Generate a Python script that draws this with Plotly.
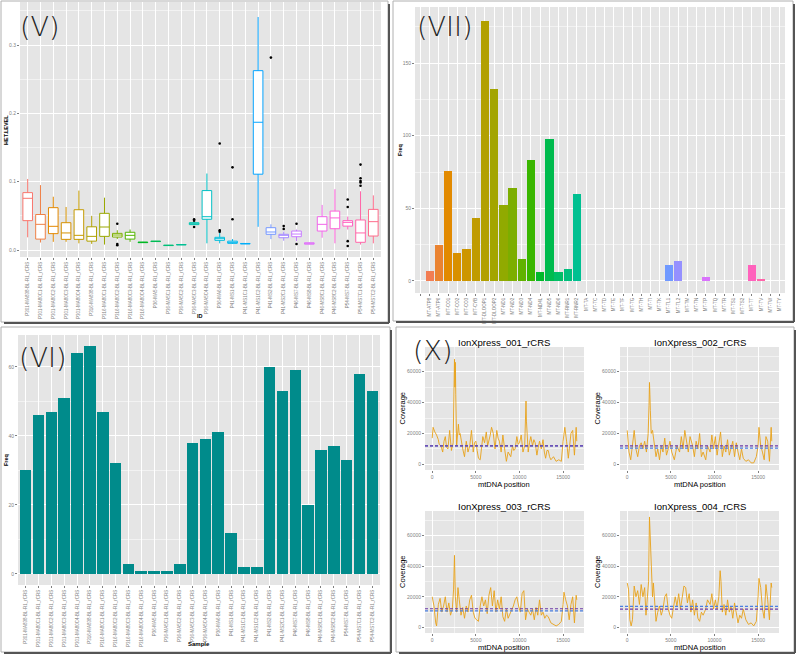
import math
import plotly.graph_objects as go

W, H = 796, 655

# ---------------- DATA ----------------
samples = [
    "P301-MA838-BL-R1_rCRS", "P301-MA80C1-BL-R1_rCRS", "P301-MA80C2-BL-R1_rCRS",
    "P301-MA80C3-BL-R1_rCRS", "P301-MA80C4-BL-R1_rCRS", "P316-MA838-BL-R1_rCRS",
    "P316-MA80C1-BL-R1_rCRS", "P316-MA80C2-BL-R1_rCRS", "P316-MA80C3-BL-R1_rCRS",
    "P316-MA80C4-BL-R1_rCRS", "P36-MA5-BL-R1_rCRS", "P36-MA5C1-BL-R1_rCRS",
    "P36-MA5C2-BL-R1_rCRS", "P36-MA5C3-BL-R1_rCRS", "P36-MA5C4-BL-R1_rCRS",
    "P36-MA6-BL-R1_rCRS", "P41-MS1-BL-R1_rCRS", "P41-MS1C1-BL-R1_rCRS",
    "P41-MS1C2-BL-R1_rCRS", "P41-MS2-BL-R1_rCRS", "P41-MS2C1-BL-R1_rCRS",
    "P46-MS7-BL-R1_rCRS", "P46-MS8-BL-R1_rCRS", "P46-MS8C1-BL-R1_rCRS",
    "P46-MS8C2-BL-R1_rCRS", "P54-MS7-BL-R1_rCRS", "P54-MS7C1-BL-R1_rCRS",
    "P54-MS7C2-BL-R1_rCRS",
]

# Panel V: heteroplasmy level box statistics per sample
het_q1 = [0.043, 0.016, 0.024, 0.0156, 0.0156, 0.013, 0.020, 0.019, 0.016, 0.0108,
          0.0124, 0.0065, 0.0075, 0.0372, 0.045, 0.0142, 0.0098, 0.0090, 0.111, 0.023,
          0.018, 0.0195, 0.0086, 0.0278, 0.0312, 0.035, 0.0113, 0.0205]
het_med = [0.0757, 0.0376, 0.0347, 0.025, 0.0215, 0.020, 0.0337, 0.022, 0.0215, 0.0112,
           0.0127, 0.0068, 0.0078, 0.038, 0.0488, 0.0166, 0.0112, 0.0093, 0.187, 0.0264,
           0.0215, 0.0234, 0.0093, 0.0376, 0.047, 0.0405, 0.025, 0.0415]
het_q3 = [0.084, 0.052, 0.062, 0.040, 0.059, 0.034, 0.0537, 0.0244, 0.026, 0.0116,
          0.0130, 0.0071, 0.0081, 0.040, 0.087, 0.0186, 0.013, 0.0096, 0.2625, 0.0327,
          0.023, 0.0278, 0.0107, 0.0488, 0.057, 0.043, 0.044, 0.0595]
het_lo = [0.0186, 0.011, 0.012, 0.012, 0.0098, 0.009, 0.008, 0.016, 0.012, 0.0105,
          0.0120, 0.0063, 0.0073, 0.0365, 0.0098, 0.0098, 0.0088, 0.0088, 0.034, 0.016,
          0.0136, 0.013, 0.0085, 0.018, 0.0098, 0.030, 0.008, 0.0098]
het_hi = [0.104, 0.095, 0.078, 0.063, 0.087, 0.050, 0.0766, 0.029, 0.030, 0.0119,
          0.0133, 0.0074, 0.0084, 0.041, 0.112, 0.025, 0.016, 0.0099, 0.341, 0.0376,
          0.027, 0.030, 0.011, 0.066, 0.089, 0.049, 0.086, 0.080]
het_out_idx = [7, 7, 7, 13, 13, 13, 15, 15, 15, 16, 16, 19, 20, 20, 21, 21,
               25, 25, 25, 25, 26, 26, 26, 26, 26]
het_out_val = [0.0385, 0.0088, 0.0069, 0.045, 0.043, 0.0337, 0.156, 0.0268, 0.0288,
               0.121, 0.045, 0.2816, 0.035, 0.0307, 0.0385, 0.0088,
               0.074, 0.063, 0.013, 0.0058, 0.125, 0.105, 0.101, 0.099, 0.094]

# Panel VII: variant frequency per mitochondrial gene
genes = ["", "MT-ATP8", "MT-ATP6", "MT-CO1", "MT-CO2", "MT-CO3", "MT-CYB", "MT-DLOOP1",
         "MT-DLOOP2", "MT-ND1", "MT-ND2", "MT-ND3", "MT-ND4", "MT-ND4L", "MT-ND5",
         "MT-ND6", "MT-RNR1", "MT-RNR2", "MT-TA", "MT-TC", "MT-TD", "MT-TE", "MT-TF",
         "MT-TG", "MT-TH", "MT-TI", "MT-TK", "MT-TL1", "MT-TL2", "MT-TM", "MT-TN",
         "MT-TP", "MT-TQ", "MT-TR", "MT-TS1", "MT-TS2", "MT-TT", "MT-TV", "MT-TW", "MT-TY"]
gene_freq = [0, 7, 25, 76, 19, 22, 43, 179, 132, 52, 64, 15, 83, 6, 98, 6, 8, 60,
             0, 0, 0, 0, 0, 0, 0, 0, 0, 11, 14, 0, 0, 3, 0, 0, 0, 0, 11, 1, 0, 0]

# Panel VI: variant frequency per sample
sample_freq = [30, 46, 47, 51, 64, 66, 47, 32, 3, 1, 1, 1, 3, 38, 39, 41, 12, 2, 2,
               60, 53, 59, 20, 36, 37, 33, 58, 53]

# Panel X: coverage along mtDNA (values in thousands of reads)
cov_titles = ["IonXpress_001_rCRS", "IonXpress_002_rCRS", "IonXpress_003_rCRS", "IonXpress_004_rCRS"]
pos001 = [0, 100, 300, 500, 700, 800, 1000, 1200, 1350, 1500, 1650, 1800, 2000, 2100, 2200, 2400,
          2500, 2550, 2600, 2650, 2700, 2750, 2800, 3000, 3100, 3200, 3350, 3500, 3700, 3900,
          4100, 4300, 4500, 4700, 4850, 5000, 5150, 5300, 5500, 5650, 5800, 6000, 6200, 6350,
          6500, 6650, 6800, 7000, 7200, 7400, 7550, 7700, 7900, 8100, 8300, 8500, 8700, 9000,
          9200, 9350, 9500, 9700, 9850, 10000, 10200, 10400, 10600, 10700, 10750, 10800, 10850,
          11000, 11150, 11300, 11500, 11650, 11800, 12000, 12150, 12300, 12500, 12700, 12850,
          13000, 13150, 13300, 13450, 13600, 13900, 14200, 14500, 14800, 15000, 15100, 15200,
          15400, 15600, 15750, 15900, 16100, 16300, 16500, 16569]
cov001 = [17, 24, 21, 19, 16, 13, 12, 8, 15, 18, 11, 10, 22, 14, 9, 14,
          40, 68, 50, 66, 45, 20, 12, 26, 19, 20, 13, 10, 5, 15,
          8, 12, 22, 8, 14, 15, 9, 4, 3, 11, 18, 14, 21, 12,
          15, 19, 24, 20, 10, 22, 17, 15, 8, 19, 10, 2, 8, 5,
          12, 9, 10, 18, 13, 14, 19, 8, 12, 30, 41, 28, 20,
          8, 14, 18, 12, 16, 14, 6, 11, 15, 10, 16, 8,
          4, 9, 9, 5, 3, 5, 2, 3, 2, 15, 20, 24,
          15, 4, 12, 20, 22, 6, 24, 15]
pos002 = [0, 200, 400, 600, 800, 1000, 1200, 1400, 1600, 1800, 2000, 2200, 2400, 2500, 2550,
          2600, 2650, 2750, 2900, 3100, 3300, 3500, 3700, 3900, 4100, 4300, 4500, 4700, 4900,
          5100, 5400, 5700, 6000, 6200, 6400, 6600, 6800, 7000, 7200, 7500, 7700, 7900, 8100,
          8300, 8500, 8700, 9000, 9200, 9500, 9700, 9900, 10100, 10300, 10500, 10700, 10900,
          11100, 11300, 11500, 11700, 11900, 12100, 12300, 12500, 12700, 12900, 13100, 13300,
          13600, 13900, 14200, 14500, 14800, 15000, 15100, 15300, 15500, 15700, 15900, 16100,
          16300, 16500, 16569]
cov002 = [22, 8, 3, 15, 22, 10, 5, 12, 14, 10, 15, 8, 20, 38, 53,
          45, 35, 20, 22, 14, 5, 10, 3, 12, 8, 17, 6, 10, 15,
          8, 3, 12, 8, 18, 10, 22, 16, 8, 18, 12, 5, 15, 10,
          20, 5, 8, 3, 12, 8, 19, 10, 18, 6, 14, 21, 5,
          12, 8, 16, 6, 10, 15, 5, 14, 8, 3, 10, 4,
          2, 3, 1, 1, 5, 12, 24, 12, 8, 3, 18, 15,
          2, 24, 15]
pos003 = [0, 200, 400, 500, 700, 900, 1100, 1300, 1500, 1700, 1900, 2100, 2300, 2450, 2550,
          2650, 2800, 2950, 3100, 3300, 3500, 3700, 3900, 4100, 4300, 4500, 4700, 4900, 5100,
          5300, 5500, 5700, 5900, 6100, 6300, 6500, 6700, 6900, 7100, 7300, 7500, 7700, 7900,
          8100, 8300, 8500, 8700, 9000, 9300, 9500, 9700, 9900, 10100, 10300, 10500, 10700,
          10900, 11100, 11300, 11500, 11700, 11900, 12100, 12300, 12500, 12700, 12900, 13100,
          13300, 13600, 13900, 14200, 14500, 14800, 15000, 15100, 15300, 15500, 15700, 15900,
          16100, 16300, 16500, 16569]
cov003 = [20, 14, 3, 1, 15, 19, 10, 14, 20, 10, 16, 8, 12, 25, 47,
          20, 10, 26, 18, 8, 13, 6, 14, 10, 18, 21, 10, 6, 5,
          4, 14, 20, 14, 18, 9, 21, 26, 14, 24, 10, 18, 12, 20,
          7, 4, 12, 6, 10, 14, 18, 20, 14, 10, 22, 24, 5,
          12, 10, 8, 12, 5, 13, 8, 18, 8, 10, 6, 8,
          7, 3, 2, 1, 2, 4, 15, 23, 18, 14, 5, 15,
          20, 3, 21, 18]
pos004 = [0, 150, 300, 450, 600, 800, 1000, 1200, 1400, 1600, 1800, 2000, 2150, 2300, 2450,
          2550, 2650, 2750, 2900, 3000, 3150, 3300, 3500, 3700, 3900, 4100, 4300, 4500, 4700,
          4900, 5100, 5300, 5500, 5700, 5900, 6100, 6300, 6500, 6700, 6900, 7100, 7300, 7500,
          7700, 7900, 8100, 8300, 8500, 8700, 9000, 9200, 9500, 9700, 9900, 10100, 10300,
          10500, 10650, 10750, 10900, 11100, 11300, 11500, 11700, 11900, 12100, 12300, 12500,
          12700, 12900, 13100, 13300, 13600, 13900, 14200, 14500, 14800, 15000, 15100, 15300,
          15500, 15700, 15900, 16100, 16300, 16500, 16569]
cov004 = [29, 25, 5, 1, 5, 27, 20, 24, 15, 28, 20, 26, 8, 20, 30,
          72, 57, 32, 20, 29, 15, 4, 10, 14, 8, 12, 20, 22, 12,
          8, 6, 12, 20, 14, 22, 12, 20, 27, 26, 16, 22, 10, 18,
          8, 16, 6, 4, 10, 8, 12, 18, 15, 22, 12, 18, 12,
          20, 37, 30, 10, 15, 8, 18, 10, 14, 6, 16, 8,
          3, 8, 6, 12, 5, 2, 3, 1, 4, 20, 32, 26,
          12, 6, 28, 18, 5, 29, 26]
cov_pos = [pos001, pos002, pos003, pos004]
cov_vals = [cov001, cov002, cov003, cov004]
cov_mean = [12000, 12000, 12200, 12000]     # purple dashed
cov_median = [12000, 10500, 10800, 13800]   # blue dashed


# ---------------- helpers ----------------
def hcl_hex(h, c=100.0, l=65.0):
    Xn, Yn, Zn = 95.047, 100.0, 108.883
    un = 4 * Xn / (Xn + 15 * Yn + 3 * Zn)
    vn = 9 * Yn / (Xn + 15 * Yn + 3 * Zn)
    u = c * math.cos(math.radians(h))
    v = c * math.sin(math.radians(h))
    Y = Yn * ((l + 16) / 116) ** 3
    up = u / (13 * l) + un
    vp = v / (13 * l) + vn
    X = Y * 9 * up / (4 * vp)
    Z = Y * (12 - 3 * up - 20 * vp) / (4 * vp)
    X, Y, Z = X / 100, Y / 100, Z / 100
    rgb = [3.2406 * X - 1.5372 * Y - 0.4986 * Z,
           -0.9689 * X + 1.8758 * Y + 0.0415 * Z,
           0.0557 * X - 0.2040 * Y + 1.0570 * Z]
    out = []
    for ch in rgb:
        ch = 12.92 * ch if ch <= 0.0031308 else 1.055 * ch ** (1 / 2.4) - 0.055
        out.append(int(round(max(0, min(1, ch)) * 255)))
    return "#%02x%02x%02x" % tuple(out)


def hue_pal(n):
    return [hcl_hex(15 + 360 * i / n) for i in range(n)]


def dx(a, b):
    return [a / W, b / W]


def dy(top, bot):
    return [1 - bot / H, 1 - top / H]


def px(x):
    return x / W


def py(y):
    return 1 - y / H


BG = "#E5E5E5"
TICKC = "#7F7F7F"
FONT = "Liberation Sans"

fig = go.Figure()

# ---------------- Panel V (boxplots) ----------------
colsV = hue_pal(len(samples))
for i in range(len(samples)):
    fig.add_trace(go.Box(
        x=[i], q1=[het_q1[i]], median=[het_med[i]], q3=[het_q3[i]],
        lowerfence=[het_lo[i]], upperfence=[het_hi[i]],
        fillcolor="white", line=dict(color=colsV[i], width=1), width=0.75,
        boxpoints=False, whiskerwidth=0, showlegend=False, hoverinfo="skip",
        xaxis="x", yaxis="y"))
fig.add_trace(go.Scatter(x=het_out_idx, y=het_out_val, mode="markers",
                         marker=dict(color="black", size=2.6), showlegend=False,
                         hoverinfo="skip", xaxis="x", yaxis="y"))

# ---------------- Panel VII (gene bars) ----------------
fig.add_trace(go.Bar(x=list(range(len(genes))), y=gene_freq, width=0.9,
                     marker=dict(color=hue_pal(len(genes)), line=dict(width=0)),
                     showlegend=False, hoverinfo="skip", xaxis="x2", yaxis="y2"))

# ---------------- Panel VI (sample bars) ----------------
fig.add_trace(go.Bar(x=list(range(len(samples))), y=sample_freq, width=0.9,
                     marker=dict(color="#008B8B", line=dict(width=0)),
                     showlegend=False, hoverinfo="skip", xaxis="x3", yaxis="y3"))

# ---------------- Panel X (coverage) ----------------
for k in range(4):
    ax = str(4 + k)
    fig.add_trace(go.Scatter(x=cov_pos[k], y=[v * 1000 for v in cov_vals[k]],
                             mode="lines", line=dict(color="#E8A21A", width=0.9),
                             showlegend=False, hoverinfo="skip",
                             xaxis="x" + ax, yaxis="y" + ax))
    fig.add_shape(type="line", xref="x%s domain" % ax, yref="y" + ax, x0=0, x1=1,
                  y0=cov_median[k], y1=cov_median[k],
                  line=dict(color="#4A7FE0", width=1.2, dash="3px,2px"))
    fig.add_shape(type="line", xref="x%s domain" % ax, yref="y" + ax, x0=0, x1=1,
                  y0=cov_mean[k], y1=cov_mean[k],
                  line=dict(color="#6B3AA8", width=1.2, dash="3px,2px"))

# ---------------- axes ----------------
def cat_axis(dom, n, labels, size, anchor):
    return dict(domain=dom, range=[-0.6, n - 1 + 0.6], tickmode="array",
                tickvals=list(range(n)), ticktext=labels, tickangle=-90,
                tickfont=dict(size=size, color=TICKC, family=FONT),
                showgrid=True, gridcolor="white", gridwidth=1, zeroline=False,
                ticks="outside", ticklen=2, tickcolor=TICKC, showline=False,
                anchor=anchor, fixedrange=True)


def num_axis(dom, rng, vals, texts, minor_dtick, size, anchor):
    return dict(domain=dom, range=rng, tickmode="array", tickvals=vals, ticktext=texts,
                tickfont=dict(size=size, color=TICKC, family=FONT),
                showgrid=True, gridcolor="white", gridwidth=1, zeroline=False,
                ticks="outside", ticklen=2, tickcolor=TICKC, showline=False,
                minor=dict(dtick=minor_dtick, tick0=0, showgrid=True,
                           gridcolor="#F2F2F2", gridwidth=0.5, ticks=""),
                anchor=anchor, fixedrange=True)


layout = dict(
    width=W, height=H, margin=dict(l=0, r=0, t=0, b=0),
    paper_bgcolor="white", plot_bgcolor=BG, showlegend=False,
    font=dict(family=FONT), boxmode="overlay", bargap=0,
    xaxis=cat_axis(dx(20, 381), len(samples), samples, 4.5, "y"),
    yaxis=num_axis(dy(2, 257), [-0.0102, 0.363], [0, 0.1, 0.2, 0.3],
                   ["0.0", "0.1", "0.2", "0.3"], 0.05, 5, "x"),
    xaxis2=cat_axis(dx(415, 785), len(genes), genes, 4.5, "y2"),
    yaxis2=num_axis(dy(7, 293), [-8.3, 188.6], [0, 50, 100, 150],
                    ["0", "50", "100", "150"], 25, 5, "x2"),
    xaxis3=cat_axis(dx(18, 380), len(samples), samples, 4.5, "y3"),
    yaxis3=num_axis(dy(335, 585), [-3.2, 69.2], [0, 20, 40, 60],
                    ["0", "20", "40", "60"], 10, 5, "x3"),
)

cov_boxes = [(425, 584, 347, 470), (620, 779, 347, 470), (425, 584, 511, 633), (620, 779, 511, 633)]
for k, (x0, x1, y0, y1) in enumerate(cov_boxes):
    ax = str(4 + k)
    layout["xaxis" + ax] = num_axis(dx(x0, x1), [-828, 17397], [0, 5000, 10000, 15000],
                                    ["0", "5000", "10000", "15000"], 2500, 5, "y" + ax)
    layout["yaxis" + ax] = num_axis(dy(y0, y1), [-3600, 75900], [0, 20000, 40000, 60000],
                                    ["0", "20000", "40000", "60000"], 10000, 5, "x" + ax)
fig.update_layout(**layout)

# ---------------- annotations ----------------
ann = []


def text(x, y, s, size, color="black", angle=0, family=FONT, weight=None):
    f = dict(size=size, color=color, family=family)
    if weight is not None:
        f["weight"] = weight
    ann.append(dict(x=px(x), y=py(y), xref="paper", yref="paper", text=s, showarrow=False,
                    font=f, textangle=angle, xanchor="center", yanchor="middle"))


# panel labels
PL = "DejaVu Sans"
text(40, 26, "(V)", 27, "#222", family=PL, weight=200)
text(444, 26, "(VII)", 27, "#222", family=PL, weight=200)
text(43, 357, "(VI)", 27, "#222", family=PL, weight=200)
text(433, 350, "(X)", 27, "#222", family=PL, weight=200)

# axis titles
text(6, 130, "<b>HET.LEVEL</b>", 5.5, angle=-90)
text(200, 316, "<b>ID</b>", 5.5)
text(400, 150, "<b>Freq</b>", 5.5, angle=-90)
text(6, 460, "<b>Freq</b>", 5.5, angle=-90)
text(199, 644, "<b>Sample</b>", 6)

for k, (x0, x1, y0, y1) in enumerate(cov_boxes):
    cx = (x0 + x1) / 2
    text(cx, y0 - 5, cov_titles[k], 9.5)
    text(cx, y1 + 14, "mtDNA position", 7.5)
    text(x0 - 23, (y0 + y1) / 2, "Coverage", 7.5, angle=-90)

fig.update_layout(annotations=ann)

# ---------------- panel frames ----------------
frames = [(1, 1, 388, 322), (393, 1, 793, 321), (1, 327, 390, 652), (396, 327, 794, 652)]
for (x0, y0, x1, y1) in frames:
    fig.add_shape(type="rect", xref="paper", yref="paper", x0=px(x0), x1=px(x1),
                  y0=py(y1), y1=py(y0), line=dict(color="#B0B0B0", width=1), layer="above")
    fig.add_shape(type="line", xref="paper", yref="paper", x0=px(x1 + 1), x1=px(x1 + 1),
                  y0=py(y1 + 1), y1=py(y0 + 3), line=dict(color="#555555", width=2), layer="above")
    fig.add_shape(type="line", xref="paper", yref="paper", x0=px(x0 + 3), x1=px(x1 + 1),
                  y0=py(y1 + 1), y1=py(y1 + 1), line=dict(color="#555555", width=2), layer="above")

fig.write_html("out.html", config={"displayModeBar": False},
               post_script="document.body.style.margin='0';")
